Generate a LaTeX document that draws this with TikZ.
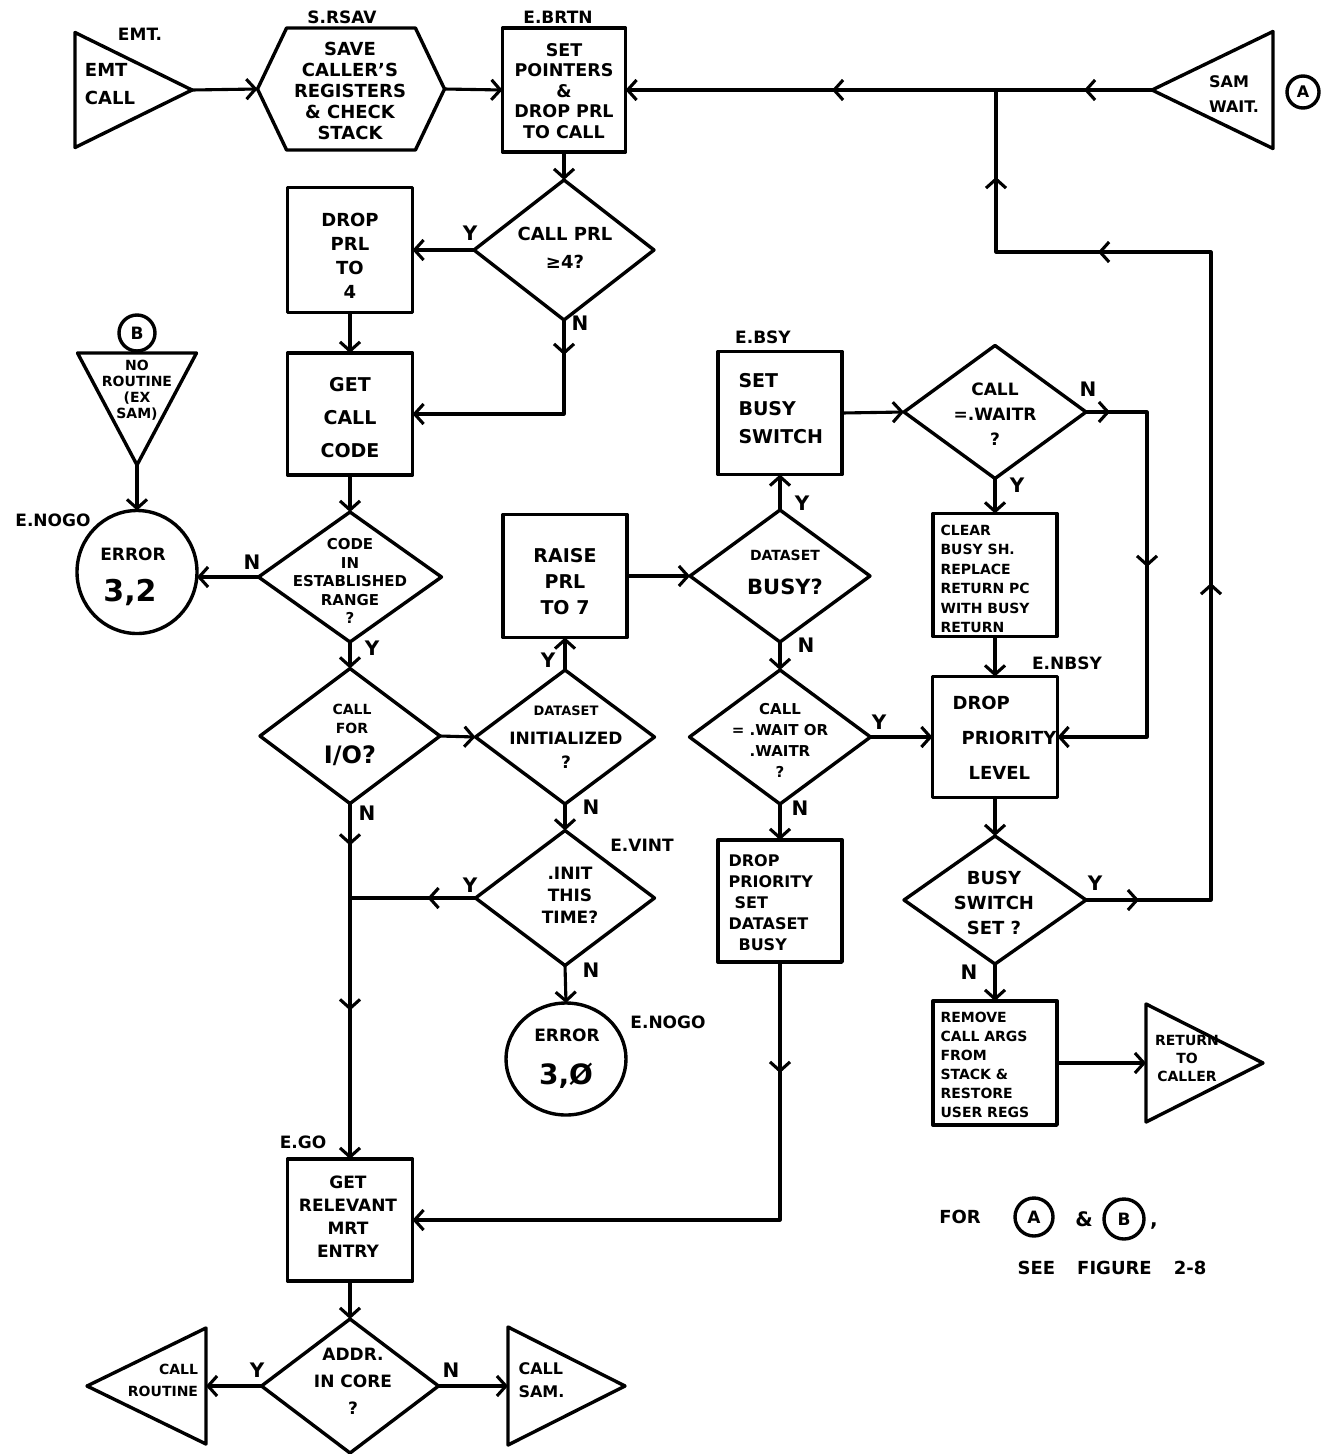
\documentclass[tikz,border=0pt]{standalone}
\usepackage{fontspec}
\setmainfont{DejaVu Sans}
\usetikzlibrary{arrows.meta,shapes.geometric,shapes.symbols,decorations.markings}
\newcommand{\fsz}[2]{\fontsize{#1}{#2}\selectfont}
\begin{document}
\begin{tikzpicture}[x=1pt,y=-1pt,
  line width=3.1pt, line join=round, line cap=round,
  >={Straight Barb[length=9pt,width=20pt]},
  every node/.style={font=\bfseries},
  shp/.style={draw, line width=3.4pt, inner sep=0pt, outer sep=0pt},
  rbox/.style 2 args={shp, rectangle, minimum width=#1, minimum height=#2},
  dia/.style 2 args={shp, diamond, minimum width=#1, minimum height=#2},
  tri/.style={shp, isosceles triangle, isosceles triangle stretches},
  ell/.style 2 args={shp, ellipse, minimum width=#1, minimum height=#2},
  hexa/.style 2 args={shp, signal, signal to=east and west, signal pointer angle=129, minimum width=#1, minimum height=#2},
  txt/.style={align=center, inner sep=0pt},
  lbl/.style={inner sep=0pt, font=\bfseries\fsz{17}{18}},
  yn/.style={inner sep=0pt, font=\bfseries\fsz{20}{20}},
  midarr/.style={postaction={decorate,decoration={markings,mark=at position #1 with {\arrow{>}}}}},
]
\fill[white] (0,0) rectangle (1327,1454);
\useasboundingbox (0,0) rectangle (1327,1454);

% ---------- shapes ----------
\node[tri, shape border rotate=0, minimum width=115, minimum height=117, anchor=apex] (emt) at (192,90) {};
\node[hexa={187}{122}] (hex) at (351,89) {};
\node[rbox={123}{124}] (brtn) at (564,90) {};
\node[tri, shape border rotate=180, minimum width=117, minimum height=121, anchor=apex] (samw) at (1152,90) {};
\node[shp, circle, minimum size=32, font=\bfseries\fsz{16}{16}] (ca) at (1303,92) {A};

\node[dia={180}{140}] (d1) at (564,250) {};
\node[rbox={125}{125}] (drop4) at (350,250) {};
\node[rbox={125}{122}] (getcode) at (350,414) {};
\node[shp, circle, minimum size=36, font=\bfseries\fsz{17}{17}] (cb) at (137,333) {B};
\node[tri, shape border rotate=270, minimum width=119, minimum height=112, anchor=apex] (norout) at (137,465) {};
\node[ell={120}{123}] (err32) at (137,572) {};
\node[dia={183}{130}] (dcode) at (350,577) {};
\node[dia={180}{135}] (dio) at (350,736) {};
\node[dia={179}{134}] (dinit) at (565,737) {};
\node[rbox={124}{123}] (raise) at (565,576) {};
\node[dia={180}{132}] (dbusy) at (780,576) {};
\node[rbox={124}{123}] (setbusy) at (780,413) {};
\node[dia={182}{133}] (dwaitr) at (995,412) {};
\node[rbox={124}{123}] (clear) at (995,575) {};
\node[rbox={125}{121}] (dropprio) at (995,737) {};
\node[dia={181}{134}] (dwait) at (780,737) {};
\node[rbox={124}{122}] (dropset) at (780,901) {};
\node[dia={179}{135}] (vint) at (565,898) {};
\node[ell={120}{112}] (err30) at (566,1059) {};
\node[dia={182}{128}] (bsw) at (995,900) {};
\node[rbox={124}{124}] (remove) at (995,1063) {};
\node[tri, shape border rotate=0, minimum width=118, minimum height=117, anchor=apex] (retc) at (1263,1063) {};
\node[rbox={125}{122}] (getrel) at (350,1220) {};
\node[dia={177}{134}] (addr) at (350,1386) {};
\node[tri, shape border rotate=180, minimum width=116, minimum height=119, anchor=apex] (callr) at (87,1386) {};
\node[tri, shape border rotate=0, minimum width=118, minimum height=117, anchor=apex] (calls) at (625,1386) {};

% ---------- texts ----------
\node[txt, font=\bfseries\fsz{18}{28}, align=left] (emtt) at (110,84) {EMT\\CALL};
\node[lbl] (emtl) at (140,34) {EMT.};
\node[txt, font=\bfseries\fsz{18}{21}] (hext) at (350,91) {SAVE\\CALLER'S\\REGISTERS\\\& CHECK\\STACK};
\node[lbl] (hexl) at (342,17) {S.RSAV};
\node[txt, font=\bfseries\fsz{17.5}{20.5}] (brtnt) at (564,91) {SET\\POINTERS\\\&\\DROP PRL\\TO CALL};
\node[lbl] (brtnl) at (558,17) {E.BRTN};
\node[txt, font=\bfseries\fsz{16}{25}, align=left] (samwt) at (1234,94) {SAM\\WAIT.};
\node[txt, font=\bfseries\fsz{18}{28}] (d1t) at (565,248) {CALL PRL\\≥4?};
\node[txt, font=\bfseries\fsz{18}{24}] (drop4t) at (350,256) {DROP\\PRL\\TO\\4};
\node[txt, font=\bfseries\fsz{19}{33}] (getcodet) at (350,418) {GET\\CALL\\CODE};
\node[txt, font=\bfseries\fsz{14}{16}] (norott) at (137,390) {NO\\ROUTINE\\(EX\\SAM)};
\node[txt, font=\bfseries\fsz{17}{18}] (err32a) at (133,554) {ERROR};
\node[txt, font=\bfseries\fsz{30}{30}] (err32b) at (130,592) {3,2};
\node[lbl] (nogo1) at (53,520) {E.NOGO};
\node[txt, font=\bfseries\fsz{15}{18.5}] (dcodet) at (350,581) {CODE\\IN\\ESTABLISHED\\RANGE\\?};
\node[txt, font=\bfseries\fsz{14}{19}] (diot) at (352,719) {CALL\\FOR};
\node[txt, font=\bfseries\fsz{24}{24}] (diot2) at (350,756) {I/O?};
\node[txt, font=\bfseries\fsz{19}{26}] (raiset) at (565,582) {RAISE\\PRL\\TO 7};
\node[txt, font=\bfseries\fsz{13}{14}] (dinitt1) at (566,711) {DATASET};
\node[txt, font=\bfseries\fsz{17}{24}] (dinitt2) at (566,750) {INITIALIZED\\?};
\node[txt, font=\bfseries\fsz{14}{14}] (dbusyt1) at (785,555) {DATASET};
\node[txt, font=\bfseries\fsz{21}{21}] (dbusyt2) at (785,587) {BUSY?};
\node[lbl] (bsyl) at (763,337) {E.BSY};
\node[txt, font=\bfseries\fsz{19}{28}, align=left, anchor=west] (setbusyt) at (737,409) {SET\\BUSY\\SWITCH};
\node[txt, font=\bfseries\fsz{17}{25}] (dwaitrt) at (995,414) {CALL\\=.WAITR\\?};
\node[txt, font=\bfseries\fsz{14}{19.5}, align=left, anchor=west] (cleart) at (939,579) {CLEAR\\BUSY SH.\\REPLACE\\RETURN PC\\WITH BUSY\\RETURN};
\node[lbl] (nbsyl) at (1067,663) {E.NBSY};
\node[txt, font=\bfseries\fsz{18}{35}, align=left, anchor=west] (dropt) at (951,738) {DROP\\\hspace*{9pt}PRIORITY\\\hspace*{16pt}LEVEL};
\node[txt, font=\bfseries\fsz{15}{21}] (dwaitt) at (780,740) {CALL\\= .WAIT OR\\.WAITR\\?};
\node[txt, font=\bfseries\fsz{16}{21}, align=left, anchor=west] (dropsett) at (727,903) {DROP\\PRIORITY\\\hspace*{6pt}SET\\DATASET\\\hspace*{10pt}BUSY};
\node[txt, font=\bfseries\fsz{17}{22}] (vintt) at (570,895) {.INIT\\THIS\\TIME?};
\node[lbl] (vintl) at (642,845) {E.VINT};
\node[txt, font=\bfseries\fsz{17}{18}] (err30a) at (567,1035) {ERROR};
\node[txt, font=\bfseries\fsz{28}{28}] (err30b) at (566,1076) {3,Ø};
\node[lbl] (nogo2) at (668,1022) {E.NOGO};
\node[txt, font=\bfseries\fsz{18}{25}] (bswt) at (994,903) {BUSY\\SWITCH\\SET ?};
\node[txt, font=\bfseries\fsz{14}{19}, align=left, anchor=west] (removet) at (939,1065) {REMOVE\\CALL ARGS\\FROM\\STACK \&\\RESTORE\\USER REGS};
\node[txt, font=\bfseries\fsz{14}{18}] (retct) at (1187,1058) {RETURN\\TO\\CALLER};
\node[lbl] (gol) at (303,1142) {E.GO};
\node[txt, font=\bfseries\fsz{17}{23}] (getrelt) at (348,1217) {GET\\RELEVANT\\MRT\\ENTRY};
\node[txt, font=\bfseries\fsz{17}{27}] (addrt) at (353,1381) {ADDR.\\IN CORE\\?};
\node[txt, font=\bfseries\fsz{14}{22}, align=right] (callrt) at (163,1380) {CALL\\ROUTINE};
\node[txt, font=\bfseries\fsz{16}{23}, align=left, anchor=west] (callst) at (517,1380) {CALL\\SAM.};

% note
\node[txt, font=\bfseries\fsz{18}{18}] (fort) at (960,1217) {FOR};
\node[shp, circle, minimum size=38, font=\bfseries\fsz{17}{17}] (na) at (1034,1217) {A};
\node[txt, font=\bfseries\fsz{20}{20}] (amp) at (1084,1219) {\&};
\node[shp, circle, minimum size=40, font=\bfseries\fsz{17}{17}] (nb) at (1124,1219) {B};
\node[txt, font=\bfseries\fsz{20}{20}] (comma) at (1154,1226) {,};
\node[txt, font=\bfseries\fsz{18}{18}] (seet) at (1112,1268) {SEE\hspace{22pt}FIGURE\hspace{22pt}2-8};

% ---------- Y / N labels ----------
\node[yn] (y1) at (470,233) {Y};
\node[yn] (n1) at (580,323) {N};
\node[yn] (n2) at (252,562) {N};
\node[yn] (y2) at (372,648) {Y};
\node[yn] (n3) at (367,813) {N};
\node[yn] (y3) at (548,660) {Y};
\node[yn] (n4) at (591,807) {N};
\node[yn] (y4) at (802,503) {Y};
\node[yn] (n5) at (806,645) {N};
\node[yn] (n6) at (1088,389) {N};
\node[yn] (y5) at (1017,485) {Y};
\node[yn] (y6) at (879,722) {Y};
\node[yn] (n7) at (800,808) {N};
\node[yn] (y7) at (470,885) {Y};
\node[yn] (n8) at (591,970) {N};
\node[yn] (y8) at (1095,883) {Y};
\node[yn] (n9) at (969,972) {N};
\node[yn] (y9) at (257,1370) {Y};
\node[yn] (n10) at (451,1370) {N};

% ---------- connectors ----------
\coordinate (jA) at (996,90);
\coordinate (jB) at (350,898);
\draw[->] (emt.apex) -- (hex.west);
\draw[->] (hex.east) -- (brtn.west);
\draw[->, midarr=68pt, midarr=320pt] (samw.apex) -- (brtn.east);
\draw[midarr=53pt, midarr=442pt, midarr=886pt, midarr=1063pt] (bsw.east) -- (1211,900) -- (1211,252) -- (996,252) -- (jA);
\draw[->] (brtn.south) -- (d1.north);
\draw[->] (d1.west) -- (drop4.east);
\draw[->, midarr=35pt] (d1.south) |- (getcode.east);
\draw[->] (drop4.south) -- (getcode.north);
\draw[->] (norout.apex) -- (err32.north);
\draw[->] (getcode.south) -- (dcode.north);
\draw[->] (dcode.west) -- (dcode.west -| err32.east);
\draw[->] (dcode.south) -- (dio.north);
\draw[->] (dio.east) -- (dinit.west);
\draw[->] (dinit.north) -- (raise.south);
\draw[->] (raise.east) -- (dbusy.west);
\draw[->] (dbusy.north) -- (setbusy.south);
\draw[->] (setbusy.east) -- (dwaitr.west);
\draw[->, midarr=24pt, midarr=216pt] (dwaitr.east) -- (1147,412) |- (dropprio.east);
\draw[->] (dwaitr.south) -- (clear.north);
\draw[->] (clear.south) -- (dropprio.north);
\draw[->] (dbusy.south) -- (dwait.north);
\draw[->] (dwait.east) -- (dropprio.west);
\draw[->] (dwait.south) -- (dropset.north);
\draw[->, midarr=111pt] (dropset.south) |- (getrel.east);
\draw[->] (dinit.south) -- (vint.north);
\draw[->] (vint.south) -- (err30.north);
\draw[midarr=48pt] (vint.west) -- (jB);
\draw[->, midarr=42pt, midarr=207pt] (dio.south) -- (getrel.north);
\draw[->] (dropprio.south) -- (bsw.north);
\draw[->] (bsw.south) -- (remove.north);
\draw[->] (remove.east) -- (retc.lower side);
\draw[->] (getrel.south) -- (addr.north);
\draw[->] (addr.west) -- (callr.lower side);
\draw[->] (addr.east) -- (calls.lower side);
\end{tikzpicture}
\end{document}
